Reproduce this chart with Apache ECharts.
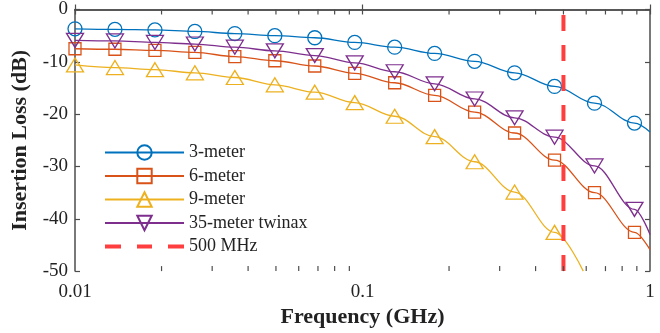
<!DOCTYPE html>
<html>
<head>
<meta charset="utf-8">
<script src="https://cdn.jsdelivr.net/npm/echarts@6/dist/echarts.min.js"></script>
<style>
html,body{margin:0;padding:0;background:#fff;}
#chart{width:660px;height:333px;}
</style>
</head>
<body>
<div id="chart"></div>
<script>
// ---- data ----
const freqs = [0.01, 0.01377, 0.01897, 0.02612, 0.03597, 0.04955, 0.06823, 0.09397, 0.1294, 0.1782, 0.2455, 0.3381, 0.4656, 0.6412, 0.8831];
const loss3m  = [-3.7, -3.8, -3.9, -4.2, -4.6, -5.0, -5.4, -6.3, -7.2, -8.4, -9.9, -12.1, -14.7, -17.9, -21.7];
const loss6m  = [-7.5, -7.6, -7.8, -8.2, -9.0, -9.8, -10.8, -12.2, -14.0, -16.4, -19.6, -23.6, -28.8, -35.0, -42.6];
const loss9m  = [-10.6, -11.1, -11.5, -12.1, -13.0, -14.4, -15.8, -17.8, -20.4, -24.3, -29.1, -34.9, -42.6];
const loss35t = [-5.9, -6.0, -6.3, -6.6, -7.2, -7.9, -8.8, -10.2, -11.9, -14.2, -17.1, -20.7, -24.4, -29.9, -38.2];
// where each curve leaves the plot (no marker)
const end3m  = [1, -23.4];
const end6m  = [1, -45.9];
const end9m  = [0.586, -50];
const end35t = [1, -43.0];
const cutoffFreq = 0.5;
const seriesNames = ['3-meter', '6-meter', '9-meter', '35-meter twinax', '500 MHz'];
const xTickLabels = [0.01, 0.1, 1];
const xMinorTicks = [0.02,0.03,0.04,0.05,0.06,0.07,0.08,0.09,0.2,0.3,0.4,0.5,0.6,0.7,0.8,0.9];
const yMin = -50, yMax = 0, yStep = 10;

const FONT = 'Liberation Serif';
const colors = ['#0072BD', '#D95319', '#EDB120', '#7E2F8E', '#FF3F3F'];
const axisColor = '#4d4d4d';
const dashedIcon = 'path://M0,0H16V4H0Z M32,0H47V4H32Z M63,0H79V4H63Z';

function pts(vals, end) {
  const arr = vals.map((v, i) => [freqs[i], v]);
  arr.push({ value: end, symbol: 'none' });
  return arr;
}

function lineSeries(name, data, color, symbol, size, rotate) {
  return {
    name: name, type: 'line', xAxisIndex: 0, yAxisIndex: 0,
    data: data, smooth: 0.35, smoothMonotone: 'x',
    symbol: symbol, symbolSize: size, symbolRotate: rotate || 0,
    showAllSymbol: true,
    lineStyle: { color: color, width: 1.3 },
    itemStyle: { color: 'rgba(255,255,255,0)', borderColor: color, borderWidth: 1.3 },
    emphasis: { disabled: true },
    animation: false, z: 3
  };
}

const chart = echarts.init(document.getElementById('chart'), null, { renderer: 'canvas' });

const option = {
  animation: false,
  backgroundColor: '#fff',
  grid: { left: 75, right: 10, top: 8, bottom: 59 },
  legend: {
    orient: 'vertical', left: 104, top: 143.5, padding: 0,
    itemWidth: 79, itemHeight: 18, itemGap: 5.5, symbolKeepAspect: true,
    data: [seriesNames[0], seriesNames[1], seriesNames[2], seriesNames[3],
      { name: seriesNames[4], icon: dashedIcon, itemStyle: { color: colors[4], borderWidth: 0 } }],
    textStyle: { fontFamily: FONT, fontSize: 18, color: '#222' },
    selectedMode: false
  },
  xAxis: [{
    type: 'log', logBase: 10, min: 0.01, max: 1, position: 'bottom',
    name: 'Frequency (GHz)', nameLocation: 'middle', nameGap: 33,
    nameTextStyle: { fontFamily: FONT, fontSize: 22, fontWeight: 'bold', color: '#222' },
    axisLine: { show: true, lineStyle: { color: axisColor, width: 1.5 } },
    axisTick: { show: true, inside: true, length: 5, lineStyle: { color: axisColor, width: 1.2 } },
    axisLabel: { fontFamily: FONT, fontSize: 19, color: '#222', margin: 11,
      formatter: v => { const m = xTickLabels.find(t => Math.abs(t - v) / t < 1e-6); return m === undefined ? '' : String(m); } },
    splitLine: { show: false }
  }, {
    type: 'log', logBase: 10, min: 0.01, max: 1, position: 'top',
    axisLine: { show: true, lineStyle: { color: axisColor, width: 1.5 } },
    axisTick: { show: true, inside: true, length: 5, lineStyle: { color: axisColor, width: 1.2 } },
    axisLabel: { show: false }, splitLine: { show: false }
  }],
  yAxis: [{
    type: 'value', min: yMin, max: yMax, interval: yStep, position: 'left',
    name: 'Insertion Loss (dB)', nameLocation: 'middle', nameGap: 41,
    nameTextStyle: { fontFamily: FONT, fontSize: 22, fontWeight: 'bold', color: '#222' },
    axisLine: { show: true, lineStyle: { color: axisColor, width: 1.5 } },
    axisTick: { show: true, inside: true, length: 5, lineStyle: { color: axisColor, width: 1.2 } },
    axisLabel: { fontFamily: FONT, fontSize: 19, color: '#222', margin: 7 },
    splitLine: { show: false }
  }, {
    type: 'value', min: yMin, max: yMax, interval: yStep, position: 'right',
    axisLine: { show: true, lineStyle: { color: axisColor, width: 1.5 } },
    axisTick: { show: true, inside: true, length: 5, lineStyle: { color: axisColor, width: 1.2 } },
    axisLabel: { show: false }, splitLine: { show: false }
  }],
  series: [
    lineSeries(seriesNames[0], pts(loss3m, end3m), colors[0], 'circle', 14),
    lineSeries(seriesNames[1], pts(loss6m, end6m), colors[1], 'rect', 12),
    lineSeries(seriesNames[2], pts(loss9m, end9m), colors[2], 'triangle', [17, 14]),
    lineSeries(seriesNames[3], pts(loss35t, end35t), colors[3], 'triangle', [17, 14], 180),
    {
      name: seriesNames[4], type: 'line', xAxisIndex: 0, yAxisIndex: 0,
      data: [[cutoffFreq, yMin], [cutoffFreq, yMax]],
      symbol: 'none',
      lineStyle: { color: colors[4], width: 4, type: [16, 14] },
      itemStyle: { color: colors[4] },
      emphasis: { disabled: true }, z: 4
    },
    {
      type: 'custom', xAxisIndex: 0, yAxisIndex: 0, silent: true, clip: false, z: 5,
      data: xMinorTicks.map(f => [f]),
      renderItem: function (params, api) {
        const f = api.value(0);
        const b = api.coord([f, yMin]);
        const t = api.coord([f, yMax]);
        const st = { stroke: axisColor, lineWidth: 1.2 };
        return { type: 'group', children: [
          { type: 'line', shape: { x1: b[0], y1: b[1], x2: b[0], y2: b[1] - 5 }, style: st },
          { type: 'line', shape: { x1: t[0], y1: t[1], x2: t[0], y2: t[1] + 5 }, style: st }
        ]};
      }
    }
  ]
};
chart.setOption(option);
</script>
</body>
</html>
